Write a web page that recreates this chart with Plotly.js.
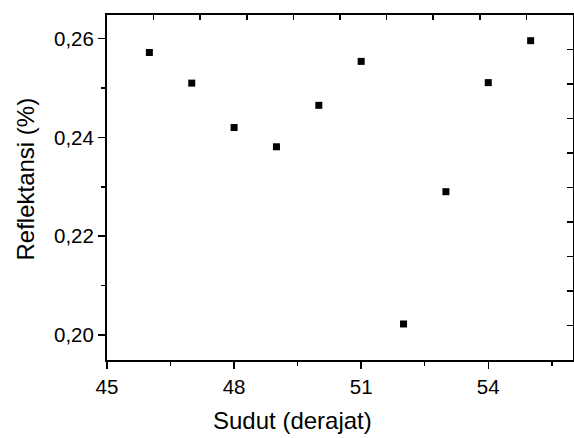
<!DOCTYPE html>
<html>
<head>
<meta charset="utf-8">
<script src="https://cdn.plot.ly/plotly-3.0.1.min.js"></script>
<style>html,body{margin:0;padding:0;background:#fff}#chart{width:574px;height:438px}</style>
</head>
<body>
<div id="chart"></div>
<script>
const sudut = [46, 47, 48, 49, 50, 51, 52, 53, 54, 55];
const reflektansi = [0.2572, 0.2510, 0.2420, 0.2381, 0.2465, 0.2554, 0.2022, 0.2290, 0.2511, 0.2596];
const xTickVals = [45, 48, 51, 54];
const xTitle = 'Sudut (derajat)';
const yTitle = 'Reflektansi (%)';

const font = {family: '"Liberation Sans", Arial, sans-serif', color: '#000'};

const data = [
  {
    x: sudut, y: reflektansi, type: 'scatter', mode: 'markers',
    marker: {symbol: 'square', size: 7, color: '#000'},
    hoverinfo: 'none', showlegend: false
  },
  {
    x: [], y: [], xaxis: 'x2', yaxis: 'y2', type: 'scatter', mode: 'markers',
    showlegend: false, hoverinfo: 'none'
  }
];

const layout = {
  width: 574, height: 438,
  margin: {l: 107, r: 1, t: 15, b: 78},
  paper_bgcolor: '#fff', plot_bgcolor: '#fff',
  separators: ',.',
  font: Object.assign({size: 20.5}, font),
  showlegend: false,
  xaxis: {
    range: [45, 56], tickmode: 'array', tickvals: xTickVals,
    ticks: 'outside', ticklen: 7, tickwidth: 1.5, tickcolor: '#000',
    minor: {dtick: 1.5, tick0: 45, ticks: 'outside', ticklen: 4, tickwidth: 1.5, tickcolor: '#000', showgrid: false},
    showline: true, linecolor: '#000', linewidth: 2, showgrid: false, zeroline: false,
    tickfont: Object.assign({size: 20.5}, font)
  },
  yaxis: {
    range: [0.1949, 0.2648], tick0: 0.2, dtick: 0.02, tickformat: '.2f',
    ticks: 'outside', ticklen: 7, tickwidth: 1.5, tickcolor: '#000',
    minor: {dtick: 0.01, tick0: 0.2, ticks: 'outside', ticklen: 4, tickwidth: 1.5, tickcolor: '#000', showgrid: false},
    showline: true, linecolor: '#000', linewidth: 2, showgrid: false, zeroline: false,
    tickfont: Object.assign({size: 20.5}, font)
  },
  xaxis2: {
    overlaying: 'x', side: 'top', anchor: 'y2', range: [0, 10], dtick: 1, tick0: 0,
    ticks: 'inside', ticklen: 5, tickwidth: 1.5, tickcolor: '#000',
    showticklabels: false, showline: true, linecolor: '#000', linewidth: 2,
    showgrid: false, zeroline: false
  },
  yaxis2: {
    overlaying: 'y', side: 'right', anchor: 'x2', range: [0, 10], dtick: 1, tick0: 0,
    ticks: 'inside', ticklen: 6, tickwidth: 1.5, tickcolor: '#000',
    showticklabels: false, showline: true, linecolor: '#000', linewidth: 2,
    showgrid: false, zeroline: false
  },
  annotations: [
    {text: xTitle, xref: 'paper', yref: 'paper', x: 0.399, y: -0.1768,
     xanchor: 'center', yanchor: 'middle', showarrow: false,
     font: Object.assign({size: 24}, font)},
    {text: yTitle, xref: 'paper', yref: 'paper', x: -0.177, y: 0.5246,
     xanchor: 'center', yanchor: 'middle', textangle: -90, showarrow: false,
     font: Object.assign({size: 24}, font)}
  ]
};

Plotly.newPlot('chart', data, layout, {staticPlot: true, displayModeBar: false});
</script>
</body>
</html>
